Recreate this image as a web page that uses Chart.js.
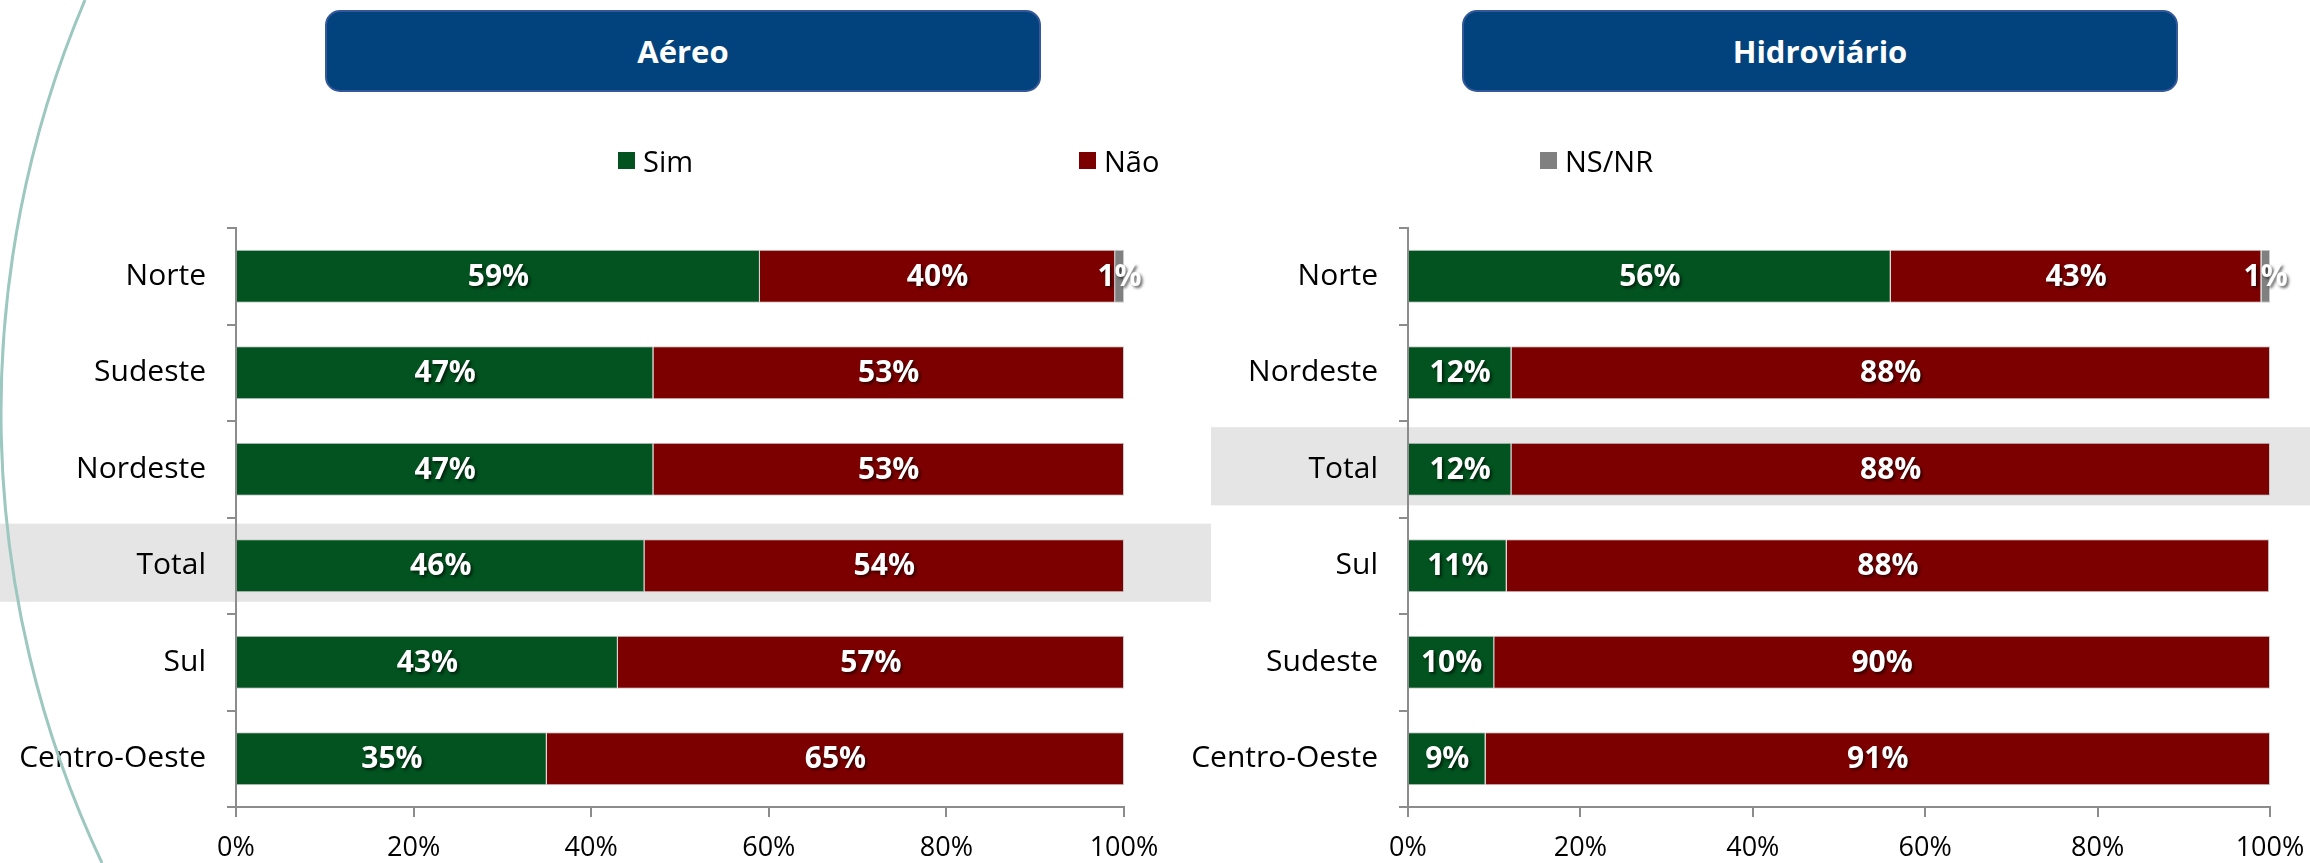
<!DOCTYPE html>
<html>
<head>
<meta charset="utf-8">
<script src="https://cdn.jsdelivr.net/npm/chart.js@4.4.1/dist/chart.umd.min.js"></script>
<style>
  body { margin: 0; background: #fff; font-family: "Open Sans", sans-serif; }
  #page { position: relative; width: 2310px; height: 863px; overflow: hidden; }
  .wrap { position: absolute; top: 0; height: 863px; }
  .box {
    position: absolute; top: 10px; height: 78px; width: 712px;
    background: #03437d; border: 2px solid #34589a; border-radius: 15px;
    color: #fff; font-weight: bold; font-size: 31px;
    display: flex; align-items: center; justify-content: center;
  }
  #legend { position: absolute; left: 618px; top: 141px; display: flex; }
  .item { width: 461px; display: flex; align-items: center; font-size: 29px; color: #000; }
  .sw { width: 17px; height: 17px; margin-right: 8px; }
  svg { position: absolute; left: 0; top: 0; pointer-events: none; }
</style>
</head>
<body>
<div id="page">
  <div class="wrap" style="left:0; width:1211px;"><canvas id="aereo"></canvas></div>
  <div class="wrap" style="left:1150px; width:1160px;"><canvas id="hidro"></canvas></div>
  <div class="box" style="left:325px;">Aéreo</div>
  <div class="box" style="left:1462px;">Hidroviário</div>
  <div id="legend"></div>
  <svg width="2310" height="863">
    <path d="M 85 0 A 1055 1055 0 0 0 102 863" fill="none" stroke="#9cc8bf" stroke-width="3"/>
  </svg>
</div>
<script>
// series
const series = ["Sim", "Não", "NS/NR"];
const colors = ["#02531f", "#7d0000", "#808080"];

// Aéreo
const aereoLabels = ["Norte", "Sudeste", "Nordeste", "Total", "Sul", "Centro-Oeste"];
const aereoSim = [59, 47, 47, 46, 43, 35];
const aereoNao = [40, 53, 53, 54, 57, 65];
const aereoNsnr = [1, 0, 0, 0, 0, 0];

// Hidroviário
const hidroLabels = ["Norte", "Nordeste", "Total", "Sul", "Sudeste", "Centro-Oeste"];
const hidroSim = [56, 12, 12, 11.45, 10, 9];
const hidroNao = [43, 88, 88, 88.45, 90, 91];
const hidroNsnr = [1, 0, 0, 0, 0, 0];

const xTicks = [0, 20, 40, 60, 80, 100];

Chart.defaults.font.family = "'Open Sans', sans-serif";
Chart.defaults.color = "#000";

// legend spanning both charts
const legend = document.getElementById("legend");
series.forEach((name, i) => {
    const item = document.createElement("div");
    item.className = "item";
    const sw = document.createElement("span");
    sw.className = "sw";
    sw.style.background = colors[i];
    item.appendChild(sw);
    item.appendChild(document.createTextNode(name));
    legend.appendChild(item);
});

// grey band behind the "Total" row
const bandPlugin = {
    id: "band",
    beforeDraw(chart, args, opts) {
        const y = chart.scales.y;
        const i = chart.data.labels.indexOf("Total");
        const c = y.getPixelForValue(i) - 3;
        const h = (y.height / chart.data.labels.length) * 0.81;
        const ctx = chart.ctx;
        ctx.save();
        ctx.fillStyle = "#e5e5e5";
        ctx.fillRect(opts.left || 0, c - h / 2, chart.width, h);
        ctx.restore();
    }
};

// white % labels in the middle of each segment
const valuePlugin = {
    id: "values",
    afterDatasetsDraw(chart) {
        const ctx = chart.ctx;
        ctx.save();
        ctx.font = "bold 30px 'Open Sans'";
        ctx.fillStyle = "#fff";
        ctx.textAlign = "center";
        ctx.textBaseline = "middle";
        ctx.shadowColor = "rgba(0,0,0,0.6)";
        ctx.shadowBlur = 3;
        ctx.shadowOffsetX = 2;
        ctx.shadowOffsetY = 2;
        chart.data.datasets.forEach((ds, di) => {
            chart.getDatasetMeta(di).data.forEach((bar, i) => {
                const v = ds.data[i];
                if (v < 0.5) return;
                const p = bar.getCenterPoint();
                ctx.fillText(Math.round(v) + "%", p.x, p.y + 1);
            });
        });
        ctx.restore();
    }
};

function makeChart(id, labels, sim, nao, nsnr, axisWidth, padRight, bandLeft) {
    const values = [sim, nao, nsnr];
    new Chart(id, {
        type: "bar",
        data: {
            labels: labels,
            datasets: series.map((name, i) => ({
                label: name,
                data: values[i],
                backgroundColor: colors[i],
                borderColor: "rgba(190,190,190,0.8)",
                borderWidth: 1,
                barPercentage: 0.55,
                categoryPercentage: 1
            }))
        },
        options: {
            indexAxis: "y",
            responsive: true,
            maintainAspectRatio: false,
            animation: false,
            layout: {
                padding: { top: 228, right: padRight, bottom: 0, left: 0 }
            },
            plugins: {
                legend: { display: false },
                tooltip: { enabled: false },
                band: { left: bandLeft }
            },
            scales: {
                x: {
                    stacked: true,
                    min: 0,
                    max: 100,
                    afterFit: (scale) => {
                        scale.height = 56;
                        scale.paddingLeft = 0;
                        scale.paddingRight = 0;
                    },
                    afterBuildTicks: (scale) => { scale.ticks = xTicks.map(v => ({ value: v })) },
                    grid: {
                        drawOnChartArea: false,
                        drawTicks: true,
                        tickLength: 10,
                        color: "#8c8c8c",
                        lineWidth: 2
                    },
                    border: { color: "#8c8c8c", width: 2 },
                    ticks: {
                        padding: 15,
                        font: { size: 27 },
                        callback: (v) => v + "%"
                    }
                },
                y: {
                    stacked: true,
                    afterFit: (scale) => { scale.width = axisWidth },
                    grid: {
                        offset: true,
                        drawOnChartArea: false,
                        drawTicks: true,
                        tickLength: 9,
                        color: "#8c8c8c",
                        lineWidth: 2
                    },
                    border: { color: "#8c8c8c", width: 2 },
                    ticks: {
                        padding: 21,
                        font: { size: 30 }
                    }
                }
            }
        },
        plugins: [bandPlugin, valuePlugin]
    });
}

makeChart("aereo", aereoLabels, aereoSim, aereoNao, aereoNsnr, 236, 87, 0);
makeChart("hidro", hidroLabels, hidroSim, hidroNao, hidroNsnr, 258, 40, 61);
</script>
</body>
</html>
